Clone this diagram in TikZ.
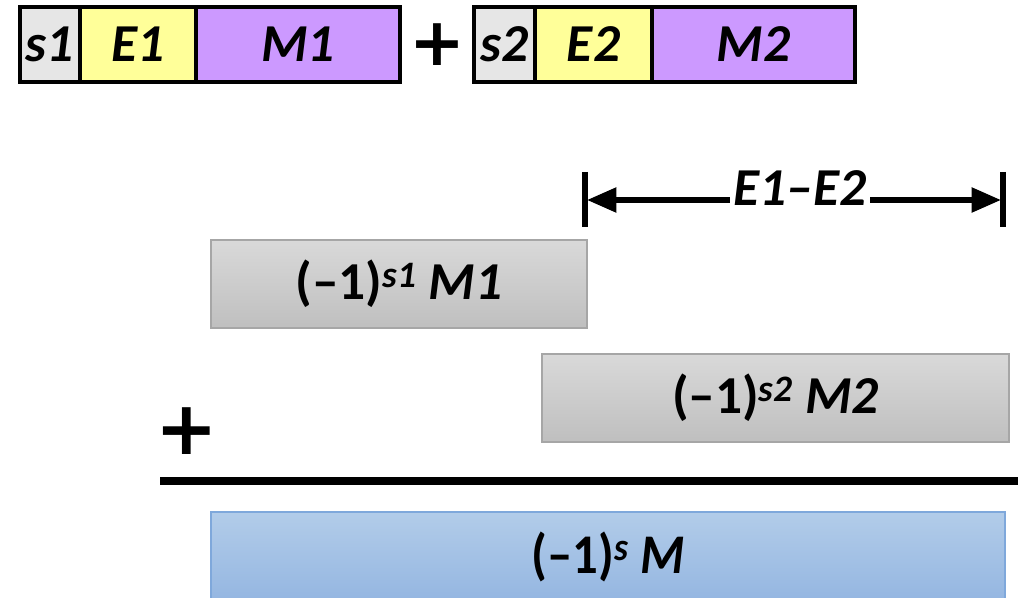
\documentclass[tikz,border=0pt]{standalone}
\usepackage{fontspec}
\setmainfont{Carlito}
\newfontfamily\plusfont{DejaVu Sans}
\usetikzlibrary{arrows.meta}
\definecolor{sgray}{HTML}{E6E6E6}
\definecolor{eyellow}{HTML}{FFFF99}
\definecolor{mpurple}{HTML}{CC99FF}
\definecolor{gtop}{HTML}{D9D9D9}
\definecolor{gbot}{HTML}{BFBFBF}
\definecolor{gline}{HTML}{A6A6A6}
\definecolor{btop}{HTML}{B2CCE9}
\definecolor{bbot}{HTML}{94B6E1}
\definecolor{bline}{HTML}{7FA8DB}
\tikzset{
  field/.style={draw=black, line width=3.2pt, inner sep=0pt, outer sep=0pt,
    minimum height={75*0.75pt}, font=\fontsize{40}{48}\selectfont\bfseries\itshape},
  valbox/.style={draw=gline, line width=0.8pt, top color=gtop, bottom color=gbot,
    inner sep=0pt, outer sep=0pt, minimum height={88*0.75pt},
    font=\fontsize{40}{48}\selectfont\bfseries},
  resbox/.style={draw=bline, line width=0.8pt, top color=btop, bottom color=bbot,
    inner sep=0pt, outer sep=0pt, font=\fontsize{40}{48}\selectfont\bfseries},
  plussign/.style={inner sep=0pt, font=\plusfont\fontsize{#1}{#1}\selectfont\bfseries},
  dimline/.style={line width=4pt, {Triangle[length=22pt,width=18pt]}-{Triangle[length=22pt,width=18pt]}, shorten <=1.5pt, shorten >=1.5pt},
  bar/.style={line width=4pt}
}
\begin{document}
\begin{tikzpicture}[x=0.75pt,y=-0.75pt]
\useasboundingbox (0,0) rectangle (1018,598);
% top fields
\node[field, fill=sgray, minimum width={60*0.75pt}] (s1) at (50,44.5) {s1};
\node[field, fill=eyellow, minimum width={116*0.75pt}] (e1) at (138,44.5) {E1};
\node[field, fill=mpurple, minimum width={204*0.75pt}] (m1) at (298,44.5) {M1};
\node[plussign=50] (plus1) at (437,45) {+};
\node[field, fill=sgray, minimum width={61*0.75pt}] (s2) at (504.5,44.5) {s2};
\node[field, fill=eyellow, minimum width={117*0.75pt}] (e2) at (593.5,44.5) {E2};
\node[field, fill=mpurple, minimum width={203*0.75pt}] (m2) at (753.5,44.5) {M2};
% dimension arrow
\coordinate (lt) at (585,172);
\coordinate (lb) at (585,227);
\coordinate (rt) at (1003,172);
\coordinate (rb) at (1003,227);
\coordinate (la) at (585,200);
\coordinate (ra) at (1003,200);
\draw[bar] (lt) -- (lb);
\draw[bar] (rt) -- (rb);
\draw[dimline] (la) -- (ra);
\node[fill=white, inner sep=3pt, font=\fontsize{40}{48}\selectfont\bfseries\itshape] (diff) at (800,188) {E1--E2};
% operands
\node[valbox, minimum width={376*0.75pt}] (op1) at (399,284) {(--1)\textsuperscript{\itshape s1} \itshape M1};
\node[valbox, minimum width={467*0.75pt}] (op2) at (775.5,398) {(--1)\textsuperscript{\itshape s2} \itshape M2};
\node[plussign=56] (plus2) at (187,431) {+};
% sum line
\coordinate (sl) at (160,481);
\coordinate (sr) at (1018,481);
\draw[line width=5.5pt] (sl) -- (sr);
% result
\node[resbox, minimum width={794*0.75pt}, minimum height={90*0.75pt}] (res) at (608,557) {\scalebox{0.95}[1.05]{(--1)\textsuperscript{\itshape s} \itshape M}};
\end{tikzpicture}
\end{document}
